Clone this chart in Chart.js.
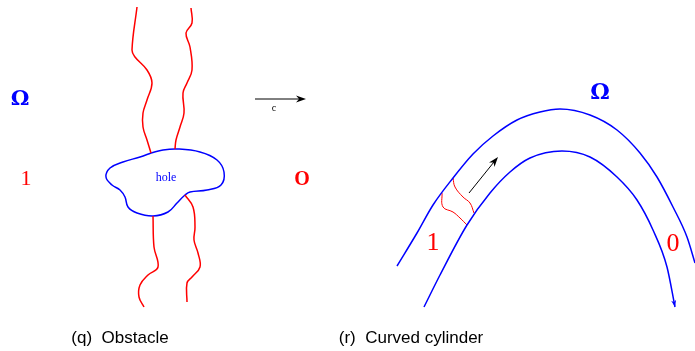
<!DOCTYPE html>
<html>
<head>
<meta charset="utf-8">
<script src="https://cdn.jsdelivr.net/npm/chart.js@4.4.0/dist/chart.umd.min.js"></script>
<style>
  html, body { margin: 0; padding: 0; background: #fff; }
  #wrap { width: 695px; height: 351px; }
</style>
</head>
<body>
<div id="wrap"><canvas id="fig"></canvas></div>
<script>
// (q) obstacle: red fronts above and below the hole
const frontUpLeft = [[137,7],[132,50],[135,57],[147,70],[152,83],[147,100],[143,113],[143,127],[147,140],[151,153]];
const frontUpRight = [[191,8],[192,23],[186,33],[190,47],[192,70],[187,83],[183,93],[184,113],[180,127],[176,140],[175,149]];
const frontDownLeft = [[153,216],[154,247],[158,267],[148,275],[140,285],[139,297],[144,307]];
const frontDownRight = [[185,195],[193,207],[195,227],[194,240],[198,253],[200,267],[192,277],[187,283],[187,302]];
const hole = [[151,153],[163,150],[177,149],[200,152],[217,160],[224,172],[221,185],[207,190],[190,192],[185,195],[177,203],[168,212],[153,216],[137,213],[128,207],[125,197],[120,190],[112,185],[106,177],[110,168],[123,162],[140,157],[151,153]];

// (r) curved cylinder: outer and inner walls, two red fronts
const outerWall = [[397,266],[417,233],[433,205],[453,178],[473,154],[493,136],[517,120],[540,112],[560,109],[590,115],[617,130],[640,153],[657,177],[673,207],[687,237],[695,263]];
const innerWall = [[424,307],[440,275],[467,225],[490,193],[510,172],[530,158],[562,151],[590,157],[617,177],[637,200],[653,230],[667,267],[675,307]];
const tubeFrontA = [[442,193],[443,207],[453,212],[460,218],[467,225]];
const tubeFrontB = [[453,178],[455,187],[463,197],[470,203],[474,213]];

// arrows [x0,y0,x1,y1]
const arrows = [[255,99,306,99],[469,193,498,157]];

const labels = [
  { text: 'Ω', x: 20, y: 100, color: '#0000ff', font: 'bold 21px "DejaVu Serif"' },
  { text: '1', x: 26, y: 179, color: '#ff0000', font: '22px "Liberation Serif"' },
  { text: 'O', x: 302, y: 180, color: '#ff0000', font: 'bold 20px "Liberation Serif"' },
  { text: 'c', x: 274, y: 108, color: '#000', font: '10px "Liberation Serif"' },
  { text: 'hole', x: 166, y: 178, color: '#0000ff', font: '12px "Liberation Serif"' },
  { text: 'Ω', x: 600, y: 93, color: '#0000ff', font: 'bold 22px "DejaVu Serif"' },
  { text: '1', x: 433, y: 243, color: '#ff0000', font: '26px "Liberation Serif"' },
  { text: '0', x: 673, y: 244, color: '#ff0000', font: '26px "Liberation Serif"' },
  { text: '(q)  Obstacle', x: 120, y: 338, color: '#000', font: '17px "Liberation Sans"' },
  { text: '(r)  Curved cylinder', x: 411, y: 338, color: '#000', font: '17px "Liberation Sans"' }
];

function pts(a) { return a.map(p => ({ x: p[0], y: p[1] })); }
function curve(a, color, w, mode) {
  const ds = { data: pts(a), borderColor: color, borderWidth: w, showLine: true, pointRadius: 0, tension: 0.4, fill: false };
  if (mode) ds.cubicInterpolationMode = mode;
  return ds;
}

function head(ctx, x1, y1, ang, len, half) {
  ctx.beginPath();
  ctx.moveTo(x1, y1);
  ctx.lineTo(x1 - len * Math.cos(ang) + half * Math.sin(ang), y1 - len * Math.sin(ang) - half * Math.cos(ang));
  ctx.lineTo(x1 - 0.7 * len * Math.cos(ang), y1 - 0.7 * len * Math.sin(ang));
  ctx.lineTo(x1 - len * Math.cos(ang) - half * Math.sin(ang), y1 - len * Math.sin(ang) + half * Math.cos(ang));
  ctx.closePath(); ctx.fill();
}

const annotate = {
  id: 'annotate',
  afterDatasetsDraw(chart) {
    const ctx = chart.ctx, sx = chart.scales.x, sy = chart.scales.y;
    ctx.save();
    arrows.forEach(a => {
      const x0 = sx.getPixelForValue(a[0]), y0 = sy.getPixelForValue(a[1]);
      const x1 = sx.getPixelForValue(a[2]), y1 = sy.getPixelForValue(a[3]);
      const ang = Math.atan2(y1 - y0, x1 - x0);
      ctx.strokeStyle = '#000'; ctx.fillStyle = '#000'; ctx.lineWidth = 1;
      ctx.beginPath(); ctx.moveTo(x0, y0); ctx.lineTo(x1 - 6 * Math.cos(ang), y1 - 6 * Math.sin(ang)); ctx.stroke();
      head(ctx, x1, y1, ang, 10, 3.5);
    });
    // small arrow tip at the end of the inner wall
    const last = innerWall[innerWall.length - 1], prev = innerWall[innerWall.length - 2];
    const ex = sx.getPixelForValue(last[0]), ey = sy.getPixelForValue(last[1]);
    const ang2 = Math.atan2(ey - sy.getPixelForValue(prev[1]), ex - sx.getPixelForValue(prev[0]));
    ctx.fillStyle = '#0000ff';
    head(ctx, ex, ey, ang2, 7, 2.5);
    ctx.textAlign = 'center'; ctx.textBaseline = 'middle';
    labels.forEach(l => {
      ctx.fillStyle = l.color; ctx.font = l.font;
      ctx.fillText(l.text, sx.getPixelForValue(l.x), sy.getPixelForValue(l.y));
    });
    ctx.restore();
  }
};

new Chart(document.getElementById('fig'), {
  type: 'scatter',
  data: {
    datasets: [
      curve(frontUpLeft, '#ff0000', 1.5),
      curve(frontUpRight, '#ff0000', 1.5),
      curve(frontDownLeft, '#ff0000', 1.5),
      curve(frontDownRight, '#ff0000', 1.5),
      curve(hole, '#0000ff', 1.5),
      curve(outerWall, '#0000ff', 1.5, 'monotone'),
      curve(innerWall, '#0000ff', 1.5, 'monotone'),
      curve(tubeFrontA, '#ff0000', 1),
      curve(tubeFrontB, '#ff0000', 1)
    ]
  },
  options: {
    responsive: true,
    maintainAspectRatio: false,
    animation: false,
    layout: { padding: 0 },
    plugins: { legend: { display: false }, tooltip: { enabled: false } },
    scales: {
      x: { type: 'linear', min: 0, max: 695, display: false },
      y: { type: 'linear', min: 0, max: 351, reverse: true, display: false }
    }
  },
  plugins: [annotate]
});
</script>
</body>
</html>
